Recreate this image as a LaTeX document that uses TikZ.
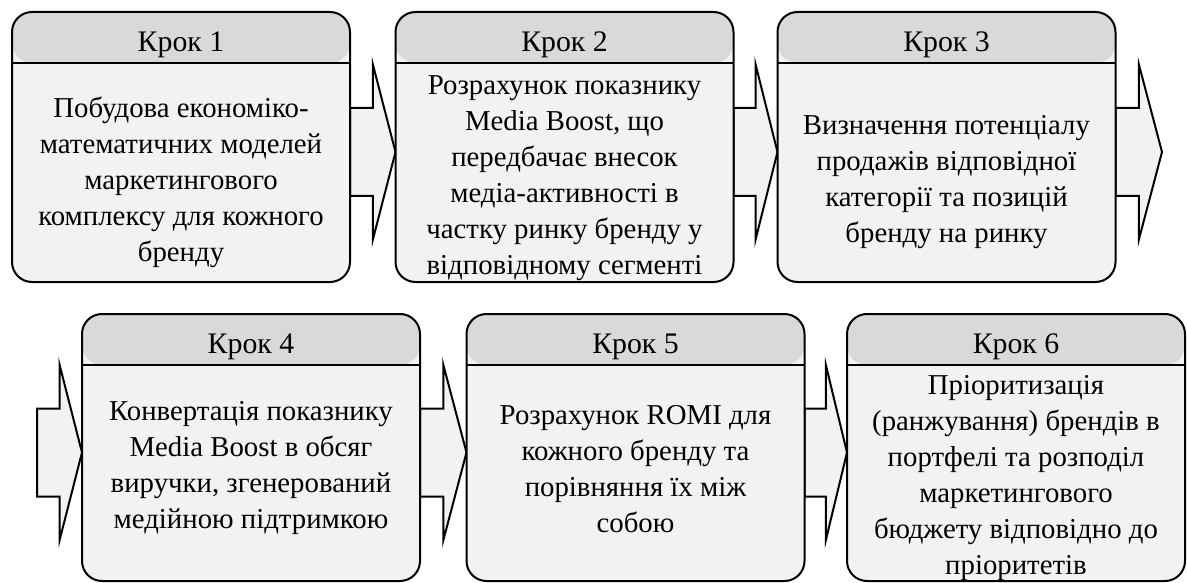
\documentclass[tikz,border=0pt]{standalone}
\usepackage{fontspec}
\setmainfont{Liberation Serif}
\usetikzlibrary{calc}
\pgfdeclarelayer{bg}
\pgfsetlayers{bg,main}
\definecolor{headfill}{HTML}{D9D9D9}
\definecolor{bodyfill}{HTML}{F2F2F2}
\newcommand\flowarrow[2]{%
  \begin{pgfonlayer}{bg}
  \draw[flow] let \p1=(#1), \p2=(#2), \n1={(\x1+\x2)/2} in
    (\x1,\y1+39pt) -- (\n1,\y1+39pt) -- (\n1,\y1+83pt) -- (\x2,\y1-5pt)
    -- (\n1,\y1-93pt) -- (\n1,\y1-49pt) -- (\x1,\y1-49pt) -- cycle;
  \end{pgfonlayer}}
\begin{document}
\begin{tikzpicture}[x=1pt,y=-1pt,
  stepbox/.style={draw, line width=2pt, rounded corners=20pt, fill=bodyfill,
    minimum width=338pt, minimum height=#1, inner sep=0pt,
    path picture={
      \fill[headfill] (path picture bounding box.north west) rectangle
        ([yshift=-51pt]path picture bounding box.north east);
      \draw[line width=2pt] ([yshift=-51pt]path picture bounding box.north west)
        -- ([yshift=-51pt]path picture bounding box.north east);}},
  head/.style={font=\fontsize{29.8}{36}\selectfont, inner sep=0pt, anchor=base},
  body/.style={font=\fontsize{28.8}{36}\selectfont, align=center, inner sep=0pt},
  flow/.style={draw, line width=2pt, fill=bodyfill, line join=miter}]
\useasboundingbox (0,0) rectangle (1187,583);

% row 1
\node[stepbox=270pt] (b1) at (181,147) {};
\node[stepbox=270pt] (b2) at (564.5,147) {};
\node[stepbox=270pt] (b3) at (946.5,147) {};
% row 2
\node[stepbox=267pt] (b4) at (251,447.5) {};
\node[stepbox=267pt] (b5) at (635.5,447.5) {};
\node[stepbox=267pt] (b6) at (1016,447.5) {};

\node[head] (h1) at (181,52) {Крок 1};
\node[head] (h2) at (564.5,52) {Крок 2};
\node[head] (h3) at (946.5,52) {Крок 3};
\node[head] (h4) at (251,353) {Крок 4};
\node[head] (h5) at (635.5,353) {Крок 5};
\node[head] (h6) at (1016,353) {Крок 6};

\node[body] (t1) at (181,182) {Побудова економіко-\\математичних моделей\\маркетингового\\комплексу для кожного\\бренду};
\node[body] (t2) at (564.5,178) {Розрахунок показнику\\Media Boost, що\\передбачає внесок\\медіа-активності в\\частку ринку бренду у\\відповідному сегменті};
\node[body] (t3) at (946.5,182) {Визначення потенціалу\\продажів відповідної\\категорії та позицій\\бренду на ринку};
\node[body] (t4) at (251,468) {Конвертація показнику\\Media Boost в обсяг\\виручки, згенерований\\медійною підтримкою};
\node[body] (t5) at (635.5,469) {Розрахунок ROMI для\\кожного бренду та\\порівняння їх між\\собою};
\node[body] (t6) at (1016,478) {Пріоритизація\\(ранжування) брендів в\\портфелі та розподіл\\маркетингового\\бюджету відповідно до\\пріоритетів};

\coordinate (s4) at (37,447.5);
\coordinate (e3) at (1162,147);

\flowarrow{$(b1.east)+(-1pt,0)$}{$(b2.west)+(1pt,0)$}
\flowarrow{$(b2.east)+(-1pt,0)$}{$(b3.west)+(1pt,0)$}
\flowarrow{$(b3.east)+(-1pt,0)$}{e3}
\flowarrow{s4}{$(b4.west)+(1pt,0)$}
\flowarrow{$(b4.east)+(-1pt,0)$}{$(b5.west)+(1pt,0)$}
\flowarrow{$(b5.east)+(-1pt,0)$}{$(b6.west)+(1pt,0)$}
\end{tikzpicture}
\end{document}
